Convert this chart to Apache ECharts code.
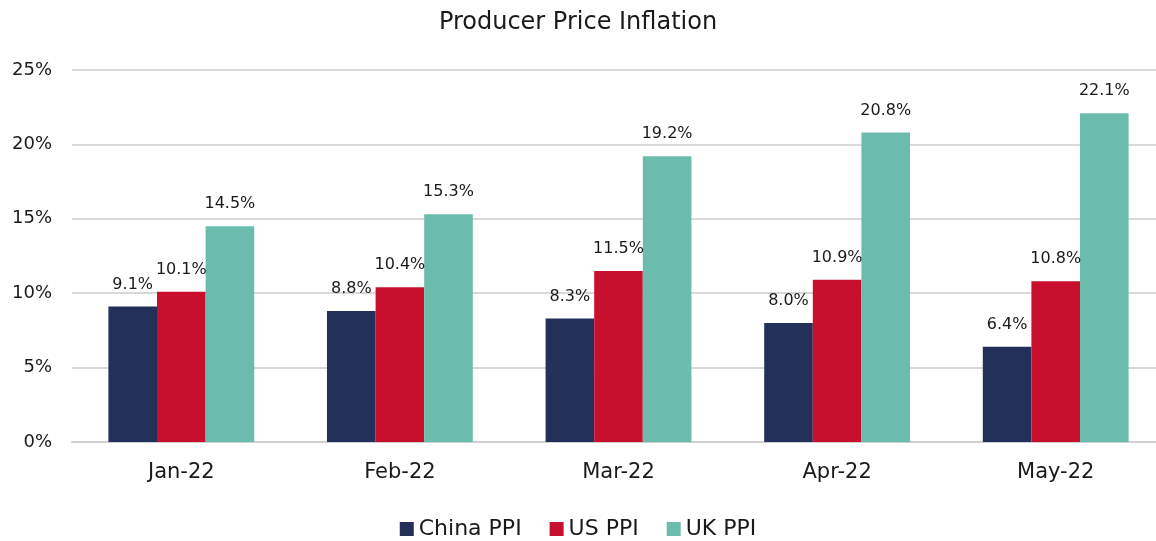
<!DOCTYPE html>
<html>
<head>
<meta charset="utf-8">
<script src="https://cdn.jsdelivr.net/npm/echarts@6/dist/echarts.min.js"></script>
<style>
  html, body { margin: 0; padding: 0; background: #fff; }
  #chart { width: 1156px; height: 541px; }
</style>
</head>
<body>
<div id="chart"></div>
<script>
  var months = ['Jan-22', 'Feb-22', 'Mar-22', 'Apr-22', 'May-22'];
  var chinaPPI = [9.1, 8.8, 8.3, 8.0, 6.4];
  var usPPI = [10.1, 10.4, 11.5, 10.9, 10.8];
  var ukPPI = [14.5, 15.3, 19.2, 20.8, 22.1];

  var font = '"DejaVu Sans", sans-serif';

  var myChart = echarts.init(document.getElementById('chart'));

  function barSeries(name, data, color) {
    return {
      name: name,
      type: 'bar',
      data: data,
      barGap: '0%',
      barCategoryGap: '33.3%',
      itemStyle: { color: color },
      label: {
        show: true,
        position: 'top',
        distance: 14,
        fontFamily: font,
        fontSize: 16,
        color: '#1a1a1a',
        formatter: function (p) { return p.value.toFixed(1) + '%'; }
      }
    };
  }

  var option = {
    animation: false,
    backgroundColor: '#ffffff',
    title: {
      text: 'Producer Price Inflation',
      left: 'center',
      top: 6,
      textStyle: { fontFamily: font, fontSize: 24, fontWeight: 'normal', color: '#1a1a1a' }
    },
    legend: {
      top: 513,
      left: 'center',
      itemWidth: 14,
      itemHeight: 14,
      itemGap: 28,
      icon: 'rect',
      textStyle: { fontFamily: font, fontSize: 22, color: '#1a1a1a' },
      data: ['China PPI', 'US PPI', 'UK PPI']
    },
    // plot area runs past the right edge in the original
    grid: { left: 72, width: 1093, top: 70, bottom: 99, containLabel: false, outerBoundsMode: 'none' },
    xAxis: {
      type: 'category',
      data: months,
      axisTick: { show: false },
      axisLine: { lineStyle: { color: '#d0d0d0', width: 2 } },
      axisLabel: { fontFamily: font, fontSize: 21, color: '#1a1a1a', margin: 20 }
    },
    yAxis: {
      type: 'value',
      min: 0,
      max: 25,
      interval: 5,
      axisLabel: { fontFamily: font, fontSize: 18, color: '#1a1a1a', margin: 20, formatter: '{value}%' },
      splitLine: { lineStyle: { color: '#d9d9d9', width: 2 } }
    },
    series: [
      barSeries('China PPI', chinaPPI, '#22305a'),
      barSeries('US PPI', usPPI, '#c8102e'),
      barSeries('UK PPI', ukPPI, '#6cbcad')
    ]
  };
  myChart.setOption(option);
</script>
</body>
</html>
